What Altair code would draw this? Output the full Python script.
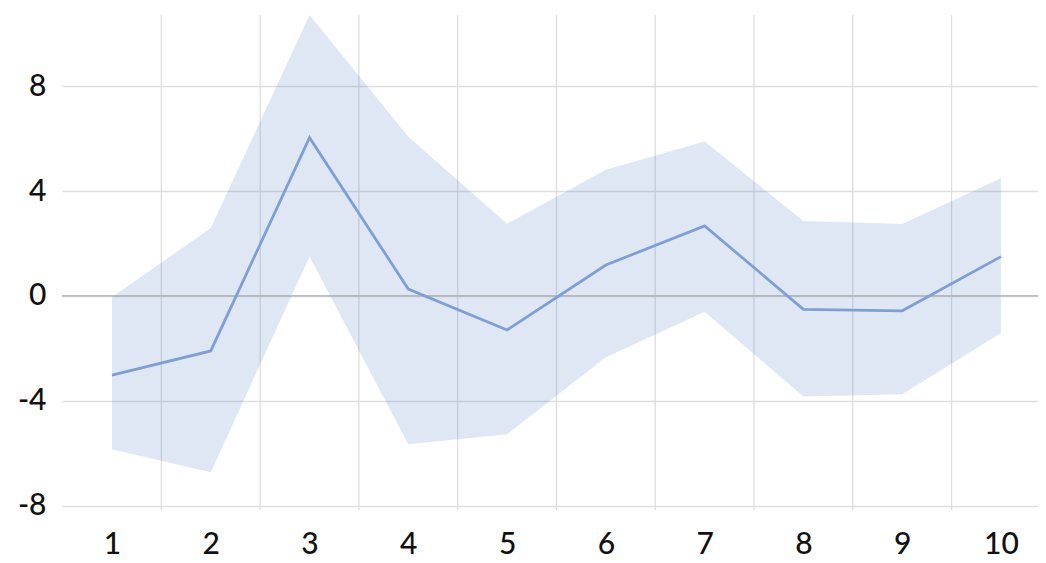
import altair as alt
import pandas as pd

categories = [1, 2, 3, 4, 5, 6, 7, 8, 9, 10]
mean_vals = [-3.02, -2.10, 6.04, 0.26, -1.30, 1.18, 2.67, -0.51, -0.57, 1.50]
upper_vals = [-0.05, 2.59, 10.72, 6.07, 2.75, 4.81, 5.89, 2.86, 2.74, 4.49]
lower_vals = [-5.85, -6.73, 1.50, -5.66, -5.28, -2.34, -0.60, -3.84, -3.75, -1.42]
y_ticks = [-8, -4, 0, 4, 8]

df = pd.DataFrame({"x": categories, "mean": mean_vals, "upper": upper_vals, "lower": lower_vals})
bounds = pd.DataFrame({"b": [c + 0.5 for c in categories[:-1]]})
zero = pd.DataFrame({"z": [0]})

FONT = "Lato"
xscale = alt.Scale(domain=[0.494, 10.375], nice=False, zero=False)
yscale = alt.Scale(domain=[-8.17, 10.72], nice=False, zero=False)

xaxis = alt.Axis(values=categories, grid=False, ticks=False, domain=False, title=None,
                 labelFont=FONT, labelFontSize=30, labelFontWeight=500, labelColor="#111111",
                 labelBaseline="middle", labelPadding=34, labelExpr="'' + datum.value",
                 labelFlush=False)
yaxis = alt.Axis(values=y_ticks, grid=True, gridColor="#dedede", gridWidth=1.3, ticks=False,
                 domain=False, title=None, labelFont=FONT, labelFontSize=30, labelFontWeight=500,
                 labelColor="#111111", labelPadding=16, labelExpr="'' + datum.value",
                 labelFlush=False)

vgrid = alt.Chart(bounds).mark_rule(color="#dedede", strokeWidth=1.3).encode(
    x=alt.X("b:Q", scale=xscale, axis=xaxis)
)
band = alt.Chart(df).mark_area(color="#4472c4", opacity=0.17).encode(
    x=alt.X("x:Q", scale=xscale, axis=xaxis),
    y=alt.Y("lower:Q", scale=yscale, axis=yaxis),
    y2="upper:Q",
)
zline = alt.Chart(zero).mark_rule(color="#ababab", strokeWidth=1.3).encode(
    y=alt.Y("z:Q", scale=yscale, axis=yaxis)
)
line = alt.Chart(df).mark_line(color="#7f9fd4", strokeWidth=2.8).encode(
    x=alt.X("x:Q", scale=xscale, axis=xaxis),
    y=alt.Y("mean:Q", scale=yscale, axis=yaxis),
)

chart = alt.layer(vgrid, band, zline, line).properties(
    width=976, height=495,
    autosize=alt.AutoSizeParams(type="none"),
    padding={"left": 54, "top": 7, "right": 0, "bottom": 53},
).configure_view(stroke=None)

chart.save("out.html", embed_options={"renderer": "svg", "actions": False})
